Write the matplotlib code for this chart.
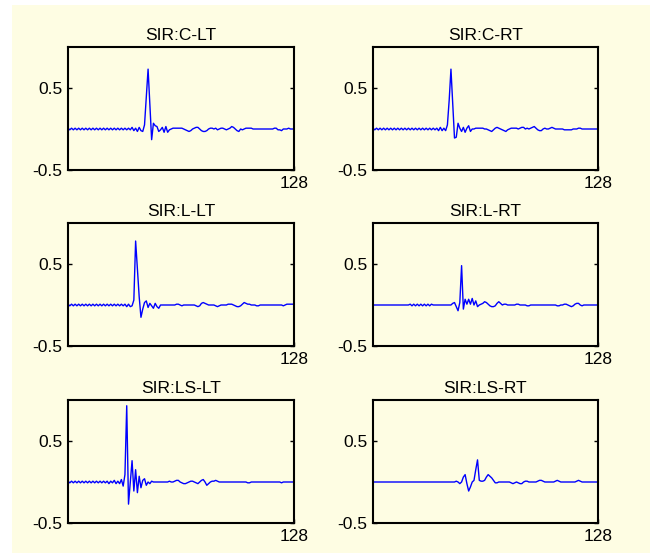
import numpy as np
import matplotlib
matplotlib.use("Agg")
import matplotlib.pyplot as plt
from matplotlib.patches import Rectangle

plt.rcParams["font.family"] = ["Liberation Sans", "DejaVu Sans"]

# ===============================
# Data: 128-sample impulse responses
# ===============================
titles = ["SIR:C-LT", "SIR:C-RT", "SIR:L-LT", "SIR:L-RT", "SIR:LS-LT", "SIR:LS-RT"]
samples = np.arange(1, 129)

c_lt = [
    0.01, -0.01, 0.01, -0.01, 0.01, -0.01, 0.01, -0.01, 0.01, -0.01, 0.01, -0.01, 0.01, -0.01, 0.01, -0.01,
    0.01, -0.01, 0.01, -0.01, 0.01, -0.01, 0.01, -0.01, 0.01, -0.01, 0.01, -0.01, 0.01, -0.01, 0.01, -0.01,
    0.01, -0.01, 0.01, -0.01, 0.02, -0.02, 0.01, -0.03, 0.02, -0.02, -0.03, 0.05, 0.40, 0.73, 0.30, -0.13,
    0.07, 0.04, 0.03, -0.03, -0.01, 0.02, -0.04, 0.03, -0.04, -0.01, 0.00, 0.01, 0.01, 0.01, 0.01, 0.01,
    0.01, 0.00, -0.01, -0.02, -0.03, -0.02, 0.00, 0.01, 0.02, 0.02, 0.00, -0.02, -0.03, -0.03, -0.02, 0.00,
    0.01, 0.01, 0.00, 0.01, -0.01, 0.00, 0.01, 0.01, 0.00, -0.01, 0.00, 0.01, 0.03, 0.02, 0.00, -0.02,
    -0.03, 0.00, -0.01, 0.00, 0.01, 0.01, 0.01, 0.01, 0.00, 0.00, 0.00, 0.00, 0.00, 0.00, 0.00, 0.00,
    0.00, 0.00, 0.00, 0.00, 0.01, 0.01, -0.01, -0.01, -0.02, 0.00, 0.00, 0.00, 0.01, 0.00, 0.00, 0.00,
]

c_rt = [
    0.01, -0.01, 0.01, -0.01, 0.01, -0.01, 0.01, -0.01, 0.01, -0.01, 0.01, -0.01, 0.01, -0.01, 0.01, -0.01,
    0.01, -0.01, 0.01, -0.01, 0.01, -0.01, 0.01, -0.01, 0.01, -0.01, 0.01, -0.01, 0.01, -0.01, 0.01, -0.01,
    0.01, -0.01, 0.01, -0.01, 0.01, -0.02, 0.02, -0.02, 0.01, -0.02, 0.05, 0.35, 0.73, 0.30, -0.11, -0.10,
    0.07, 0.01, -0.03, 0.02, -0.04, 0.01, 0.04, -0.03, 0.00, 0.00, 0.01, 0.01, 0.01, 0.01, 0.01, 0.00,
    0.00, -0.01, -0.02, -0.03, -0.01, 0.01, 0.02, 0.01, 0.00, -0.01, -0.02, -0.03, -0.01, 0.00, 0.01, 0.01,
    0.01, 0.01, 0.00, 0.01, 0.02, 0.02, 0.00, 0.01, 0.00, 0.01, 0.02, 0.03, 0.01, -0.01, -0.02, -0.02,
    0.00, 0.01, 0.00, 0.00, 0.01, 0.02, 0.01, 0.00, 0.00, 0.00, 0.00, 0.00, -0.01, -0.01, -0.01, -0.01,
    -0.01, 0.00, 0.00, 0.00, 0.01, 0.01, 0.00, 0.00, 0.00, 0.00, 0.00, 0.00, 0.00, 0.00, 0.00, 0.00,
]

l_lt = [
    0.01, -0.01, 0.01, -0.01, 0.01, -0.01, 0.01, -0.01, 0.01, -0.01, 0.01, -0.01, 0.01, -0.01, 0.01, -0.01,
    0.01, -0.01, 0.01, -0.01, 0.01, -0.01, 0.01, -0.01, 0.01, -0.01, 0.01, -0.01, 0.01, -0.01, 0.01, -0.01,
    0.01, -0.02, 0.01, -0.02, -0.01, 0.06, 0.78, 0.45, 0.10, -0.15, -0.05, 0.03, 0.05, -0.03, 0.02, -0.01,
    -0.04, 0.02, -0.02, -0.04, 0.00, 0.00, 0.00, 0.00, 0.00, 0.00, 0.00, 0.00, 0.00, 0.01, 0.01, 0.00,
    -0.01, 0.00, 0.00, 0.00, 0.00, 0.00, 0.00, 0.00, -0.01, -0.02, -0.01, 0.02, 0.03, 0.02, 0.01, 0.00,
    0.00, 0.00, 0.00, -0.01, -0.02, -0.01, 0.00, 0.00, 0.00, 0.00, 0.01, 0.01, 0.01, 0.00, -0.01, -0.02,
    -0.02, -0.01, 0.01, 0.03, 0.02, 0.01, 0.01, 0.00, 0.00, 0.00, -0.01, -0.01, 0.00, 0.00, 0.00, 0.00,
    0.00, 0.00, 0.00, 0.00, 0.00, 0.00, 0.00, 0.00, 0.00, -0.01, 0.00, 0.01, 0.01, 0.01, 0.01, 0.01,
]

l_rt = [
    0.00, 0.00, 0.00, 0.00, 0.00, 0.00, 0.00, 0.00, 0.00, 0.00, 0.00, 0.00, 0.00, 0.00, 0.00, 0.00,
    0.00, 0.00, 0.00, 0.00, 0.00, 0.01, -0.01, 0.01, -0.01, 0.01, -0.01, 0.01, -0.01, 0.01, -0.01, 0.01,
    -0.01, 0.01, 0.00, 0.00, 0.00, 0.00, 0.00, 0.00, 0.00, 0.00, 0.00, 0.00, 0.00, 0.02, 0.03, -0.02,
    -0.07, 0.03, 0.48, -0.05, 0.07, 0.01, 0.07, 0.01, 0.08, 0.00, 0.05, -0.02, 0.00, 0.01, 0.02, 0.04,
    0.03, 0.01, -0.01, -0.02, -0.02, -0.01, 0.02, 0.04, 0.02, 0.00, 0.01, 0.01, 0.00, 0.00, 0.00, 0.00,
    0.00, 0.01, 0.01, 0.00, 0.00, 0.00, 0.00, -0.01, -0.01, 0.00, 0.00, 0.00, 0.00, 0.00, 0.00, 0.00,
    0.00, 0.00, 0.00, 0.00, 0.00, 0.00, 0.00, 0.00, -0.01, -0.01, 0.00, 0.00, 0.01, 0.01, 0.00, -0.01,
    -0.02, -0.01, 0.01, 0.02, 0.02, 0.00, -0.01, 0.00, 0.00, 0.00, 0.00, 0.00, 0.00, 0.00, 0.00, 0.00,
]

ls_lt = [
    0.01, -0.01, 0.01, -0.01, 0.01, -0.01, 0.01, -0.01, 0.01, -0.01, 0.01, -0.01, 0.01, -0.01, 0.01, -0.01,
    0.01, -0.01, 0.01, -0.01, 0.01, -0.01, 0.01, -0.02, 0.01, -0.01, 0.02, -0.02, 0.01, -0.02, 0.03, -0.05,
    0.09, 0.93, -0.27, 0.00, 0.26, -0.11, 0.15, -0.13, 0.07, -0.07, 0.02, 0.04, -0.04, 0.00, -0.02, 0.01,
    0.00, 0.00, 0.00, 0.00, 0.00, 0.00, 0.00, 0.00, 0.00, 0.01, 0.00, 0.00, 0.01, 0.02, 0.02, 0.00,
    -0.01, -0.02, -0.02, -0.01, 0.00, 0.01, 0.01, 0.00, -0.01, -0.02, 0.00, 0.02, 0.03, 0.00, -0.04, -0.02,
    0.00, 0.01, 0.01, 0.02, 0.01, 0.00, 0.00, 0.00, 0.00, 0.00, 0.00, 0.00, 0.00, 0.00, 0.00, 0.00,
    0.00, 0.00, 0.00, 0.00, 0.00, -0.01, -0.01, 0.00, 0.00, 0.00, 0.00, 0.00, 0.00, 0.00, 0.00, 0.00,
    0.00, 0.00, 0.00, 0.00, 0.00, 0.00, 0.00, 0.00, -0.01, 0.00, 0.00, 0.00, 0.00, 0.00, 0.00, 0.00,
]

ls_rt = [
    0.00, 0.00, 0.00, 0.00, 0.00, 0.00, 0.00, 0.00, 0.00, 0.00, 0.00, 0.00, 0.00, 0.00, 0.00, 0.00,
    0.00, 0.00, 0.00, 0.00, 0.00, 0.00, 0.00, 0.00, 0.00, 0.00, 0.00, 0.00, 0.00, 0.00, 0.00, 0.00,
    0.00, 0.00, 0.00, 0.00, 0.00, 0.00, 0.00, 0.00, 0.00, 0.00, 0.00, 0.00, 0.00, 0.00, 0.00, 0.01,
    0.00, -0.02, 0.00, 0.06, 0.09, -0.02, -0.11, -0.06, 0.00, 0.02, 0.15, 0.27, 0.02, 0.01, 0.01, 0.02,
    0.06, 0.09, 0.07, 0.05, 0.02, -0.01, -0.01, 0.00, 0.00, 0.00, 0.00, 0.00, 0.00, 0.00, -0.01, -0.02,
    -0.01, 0.00, -0.01, -0.02, -0.02, 0.00, 0.01, 0.01, 0.00, 0.00, 0.00, 0.00, 0.00, 0.01, 0.02, 0.02,
    0.01, 0.00, 0.00, 0.00, 0.00, 0.00, 0.00, 0.01, 0.02, 0.01, 0.00, 0.00, 0.00, 0.00, 0.00, 0.00,
    0.00, 0.00, 0.00, 0.01, 0.02, 0.01, 0.00, 0.00, 0.00, 0.00, 0.00, 0.00, 0.00, 0.00, 0.00, 0.00,
]

signals = [c_lt, c_rt, l_lt, l_rt, ls_lt, ls_rt]

# ===============================
# Figure layout
# ===============================
bg = "#fefde3"
W, H = 650, 553
fig = plt.figure(figsize=(6.5, 5.53), dpi=100, facecolor="white")
fig.patches.append(Rectangle((12 / W, 0), 1 - 12 / W, (H - 5) / H,
                             transform=fig.transFigure, facecolor=bg,
                             edgecolor="none", zorder=-1))

col_left = [68, 373]
col_width = [226, 225]
row_top = [47, 223, 400]
ax_h = 123

for i, sig in enumerate(signals):
    r, c = divmod(i, 2)
    ax = fig.add_axes([col_left[c] / W, (H - row_top[r] - ax_h) / H,
                       col_width[c] / W, ax_h / H])
    ax.set_facecolor(bg)
    ax.plot(samples, sig, color="#0000ff", linewidth=1.0)
    ax.set_xlim(1, 128)
    ax.set_ylim(-0.5, 1.0)
    ax.set_xticks([128])
    ax.set_yticks([-0.5, 0.5])
    ax.set_yticklabels(["-0.5", "0.5"])
    ax.tick_params(axis="y", direction="in", left=True, right=True,
                   length=3, width=1, pad=4, labelsize=12.5)
    ax.tick_params(axis="x", direction="in", length=3, width=1,
                   pad=4, labelsize=12.5)
    for sp in ax.spines.values():
        sp.set_linewidth(1.5)
    ax.set_title(titles[i], fontsize=12.5, pad=5)

plt.savefig("out.png", dpi=100, facecolor=fig.get_facecolor())
